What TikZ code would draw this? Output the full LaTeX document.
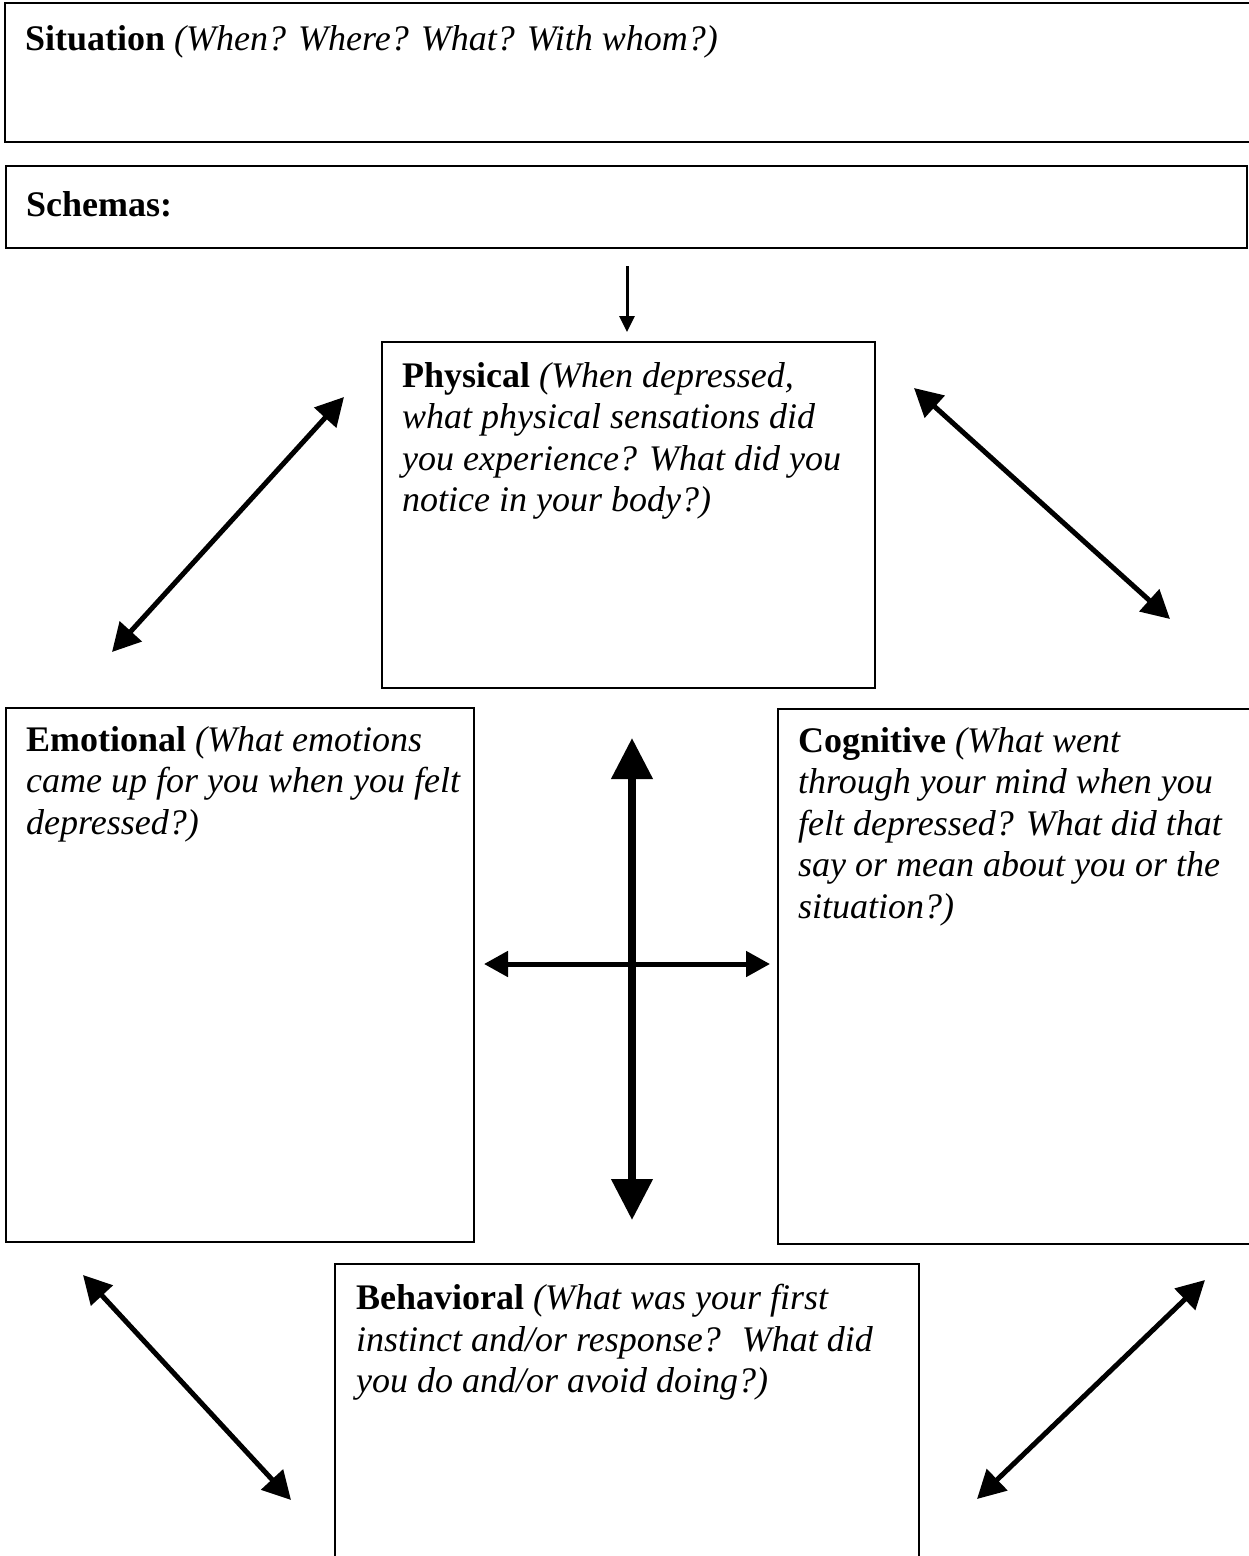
\documentclass[tikz,border=0pt]{standalone}
\usepackage{fontspec}
\setmainfont{Liberation Serif}
\usetikzlibrary{arrows.meta}

\tikzset{
	sheet/.style={draw=black, line width=1.6pt, anchor=north west, inner sep=0pt, outer sep=0pt},
	heavysheet/.style={sheet, line width=2.6pt},
	prompt/.style={anchor=north west, inner sep=0pt, align=left, font=\fontsize{36}{41.5}\selectfont},
	twoway/.style={line width=5pt, {Triangle[length=28pt,width=29pt]}-{Triangle[length=28pt,width=29pt]}},
	crossway/.style={line width=5pt, {Triangle[length=24pt,width=25pt]}-{Triangle[length=24pt,width=25pt]}},
	uprightway/.style={line width=7.5pt, {Triangle[length=41pt,width=40pt]}-{Triangle[length=41pt,width=40pt]}},
	leadin/.style={line width=3pt, -{Triangle[length=16pt,width=15pt]}}
}

\begin{document}
\begin{tikzpicture}[x=1pt, y=-1pt]
			%%%%% START %%%%%
			
			\useasboundingbox (0, 0) rectangle (1249, 1556);
			\clip (0, 0) rectangle (1249, 1556);
			
			\node[heavysheet, minimum width=1262pt, minimum height=139pt] (situation) at (5, 3) {};
			\node[prompt] (situationtext) at (25, 25) {\textbf{Situation} \textit{(When? Where? What? With whom?)}};
			
			\node[sheet, minimum width=1241pt, minimum height=82pt] (schemas) at (6, 166) {};
			\node[prompt] (schemastext) at (26, 191) {\textbf{Schemas:}};
			
			\coordinate (leadtop) at (627, 266);
			\coordinate (leadend) at (627, 332);
			\draw[leadin] (leadtop) -- (leadend);
			
			\node[sheet, minimum width=493pt, minimum height=346pt] (physical) at (382, 342) {};
			\node[prompt] (physicaltext) at (402, 362) {\textbf{Physical} \textit{(When depressed,}\\
				\textit{what physical sensations did}\\
				\textit{you experience? What did you}\\
				\textit{notice in your body?)}};
			
			\node[sheet, minimum width=468pt, minimum height=534pt] (emotional) at (6, 708) {};
			\node[prompt] (emotionaltext) at (26, 726) {\textbf{Emotional} \textit{(What emotions}\\
				\textit{came up for you when you felt}\\
				\textit{depressed?)}};
			
			\node[sheet, minimum width=490pt, minimum height=535pt] (cognitive) at (778, 709) {};
			\node[prompt] (cognitivetext) at (798, 727) {\textbf{Cognitive} \textit{(What went}\\
				\textit{through your mind when you}\\
				\textit{felt depressed? What did that}\\
				\textit{say or mean about you or the}\\
				\textit{situation?)}};
			
			\node[sheet, minimum width=584pt, minimum height=310pt] (behavioral) at (335, 1264) {};
			\node[prompt] (behavioraltext) at (356, 1284) {\textbf{Behavioral} \textit{(What was your first}\\
				\textit{instinct and/or response?~ What did}\\
				\textit{you do and/or avoid doing?)}};
			
			% arrows between the boxes
			\coordinate (emophysA) at (112, 652);
			\coordinate (emophysB) at (344, 397);
			\coordinate (physcogA) at (914, 388);
			\coordinate (physcogB) at (1170, 619);
			\coordinate (emobehA) at (83, 1275);
			\coordinate (emobehB) at (291, 1500);
			\coordinate (behcogA) at (977, 1499);
			\coordinate (behcogB) at (1205, 1280);
			\draw[twoway] (emophysA) -- (emophysB);
			\draw[twoway] (physcogA) -- (physcogB);
			\draw[twoway] (emobehA) -- (emobehB);
			\draw[twoway] (behcogA) -- (behcogB);
			
			\coordinate (crosstop) at (632, 738);
			\coordinate (crossbottom) at (632, 1220);
			\coordinate (crossleft) at (484, 964);
			\coordinate (crossright) at (770, 964);
			\draw[crossway] (crossleft) -- (crossright);
			\draw[uprightway] (crosstop) -- (crossbottom);
			
			%%%%% END %%%%%
\end{tikzpicture}
\end{document}
